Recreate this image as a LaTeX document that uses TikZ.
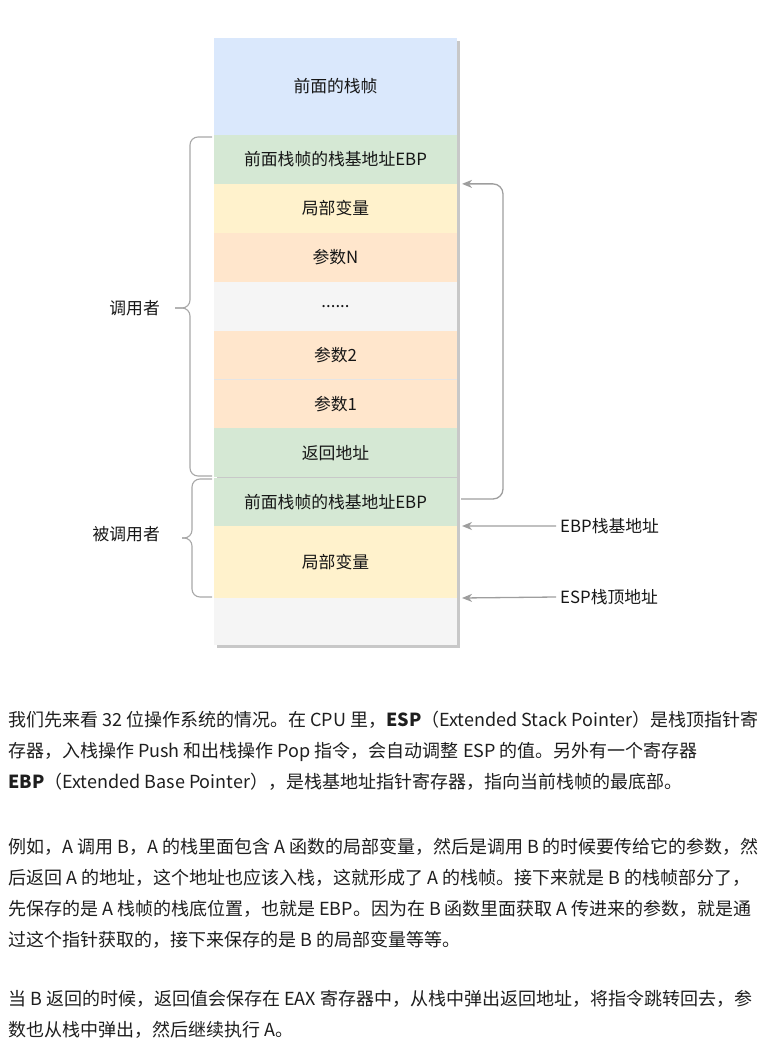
\documentclass[tikz,border=0pt]{standalone}
\usepackage{fontspec}
\setmainfont{Noto Sans CJK SC}
\usetikzlibrary{positioning,arrows.meta,calc}
\definecolor{cblue}{HTML}{DAE8FC}
\definecolor{cgreen}{HTML}{D5E8D4}
\definecolor{cyellow}{HTML}{FFF2CC}
\definecolor{corange}{HTML}{FFE6CC}
\definecolor{cgray}{HTML}{F5F5F5}
\definecolor{shadowgray}{HTML}{C8C8C8}
\definecolor{linegray}{HTML}{9E9E9E}
\definecolor{txt}{HTML}{161616}
\definecolor{paratxt}{HTML}{1E1E1E}
\newcommand{\diagfont}{\fontsize{16.8}{20}\selectfont}
\newcommand{\parafont}{\fontsize{18}{22}\selectfont}

\begin{document}
\begin{tikzpicture}[x=1pt, y=-1pt,
      cell/.style={minimum width=243pt, minimum height=48.9pt, inner sep=0pt, outer sep=0pt,
                   font=\diagfont, text=txt},
      lbl/.style={font=\diagfont, text=txt, inner sep=2pt},
      brace/.style={draw=linegray!90, line width=1.1pt, rounded corners=8pt},
      arr/.style={-{Stealth[length=10pt, width=8pt, inset=3pt]}, draw=linegray, line width=1.3pt},
      divider/.style={draw=white!80!gray, line width=0.8pt},
      para/.style={anchor=base west, inner sep=0pt, font=\parafont, text=paratxt}]
    \useasboundingbox (0,0) rectangle (766,1040);
    \fill[shadowgray] (217,41) rectangle (460,648);
    \node[cell, fill=cblue, minimum height=97pt, anchor=north west] (prev) at (214,38) {前面的栈帧};
    \node[cell, fill=cgreen, below=0pt of prev] (ebpA) {前面栈帧的栈基地址EBP};
    \node[cell, fill=cyellow, below=0pt of ebpA] (locA) {局部变量};
    \node[cell, fill=corange, below=0pt of locA] (argN) {参数N};
    \node[cell, fill=cgray, below=0pt of argN] (dots) {......};
    \node[cell, fill=corange, below=0pt of dots] (argtwo) {参数2};
    \node[cell, fill=corange, below=0pt of argtwo] (argone) {参数1};
    \node[cell, fill=cgreen, below=0pt of argone] (ret) {返回地址};
    \node[cell, fill=cgreen, minimum height=48pt, below=0.7pt of ret] (ebpB) {前面栈帧的栈基地址EBP};
    \node[cell, fill=cyellow, minimum height=72pt, below=0pt of ebpB] (locB) {局部变量};
    \node[cell, fill=cgray, minimum height=47pt, below=0pt of locB] (free) {};
    \draw[divider] (argtwo.south west) -- (argtwo.south east);

    \coordinate (callertip) at (175,308);
    \coordinate (calleetip) at (182,538);
    \draw[brace] (212,137) -- (190,137) -- (190,308) -- (callertip);
    \draw[brace] (callertip) -- (190,308) -- (190,476) -- (212,476);
    \draw[brace] (212,479) -- (192,479) -- (192,538) -- (calleetip);
    \draw[brace] (calleetip) -- (192,538) -- (192,597) -- (212,597);
    \node[lbl, left=13pt of callertip] (caller) {调用者};
    \node[lbl, anchor=east] (callee) at (162,534) {被调用者};

    \node[lbl, anchor=west, inner sep=4pt] (ebplbl) at (556,526) {EBP栈基地址};
    \node[lbl, anchor=west, inner sep=4pt] (esplbl) at (556,597) {ESP栈顶地址};
    \draw[arr, rounded corners=10pt] ($(ebpB.east)+(4,-3)$) -- ++(42,0) |- ($(ebpA.south east)+(5,0)$);
    \draw[arr] (ebplbl.west) -- ($(ebpB.south east)+(5,0)$);
    \draw[arr] (esplbl.west) -- ($(locB.south east)+(5,0)$);

    \node[para] (pa1) at (8,726) {我们先来看 32 位操作系统的情况。在 CPU 里，\textbf{ESP}（Extended Stack Pointer）是栈顶指针寄};
    \node[para] (pa2) at (8,757) {存器，入栈操作 Push 和出栈操作 Pop 指令，会自动调整 ESP 的值。另外有一个寄存器};
    \node[para] (pa3) at (8,788) {\textbf{EBP}（Extended Base Pointer），是栈基地址指针寄存器，指向当前栈帧的最底部。};
    \node[para] (pb1) at (8,853) {例如，A 调用 B，A 的栈里面包含 A 函数的局部变量，然后是调用 B 的时候要传给它的参数，然};
    \node[para] (pb2) at (8,884) {后返回 A 的地址，这个地址也应该入栈，这就形成了 A 的栈帧。接下来就是 B 的栈帧部分了，};
    \node[para] (pb3) at (8,915) {先保存的是 A 栈帧的栈底位置，也就是 EBP。因为在 B 函数里面获取 A 传进来的参数，就是通};
    \node[para] (pb4) at (8,946) {过这个指针获取的，接下来保存的是 B 的局部变量等等。};
    \node[para] (pc1) at (8,1005) {当 B 返回的时候，返回值会保存在 EAX 寄存器中，从栈中弹出返回地址，将指令跳转回去，参};
    \node[para] (pc2) at (8,1036) {数也从栈中弹出，然后继续执行 A。};
  \end{tikzpicture}
\end{document}
